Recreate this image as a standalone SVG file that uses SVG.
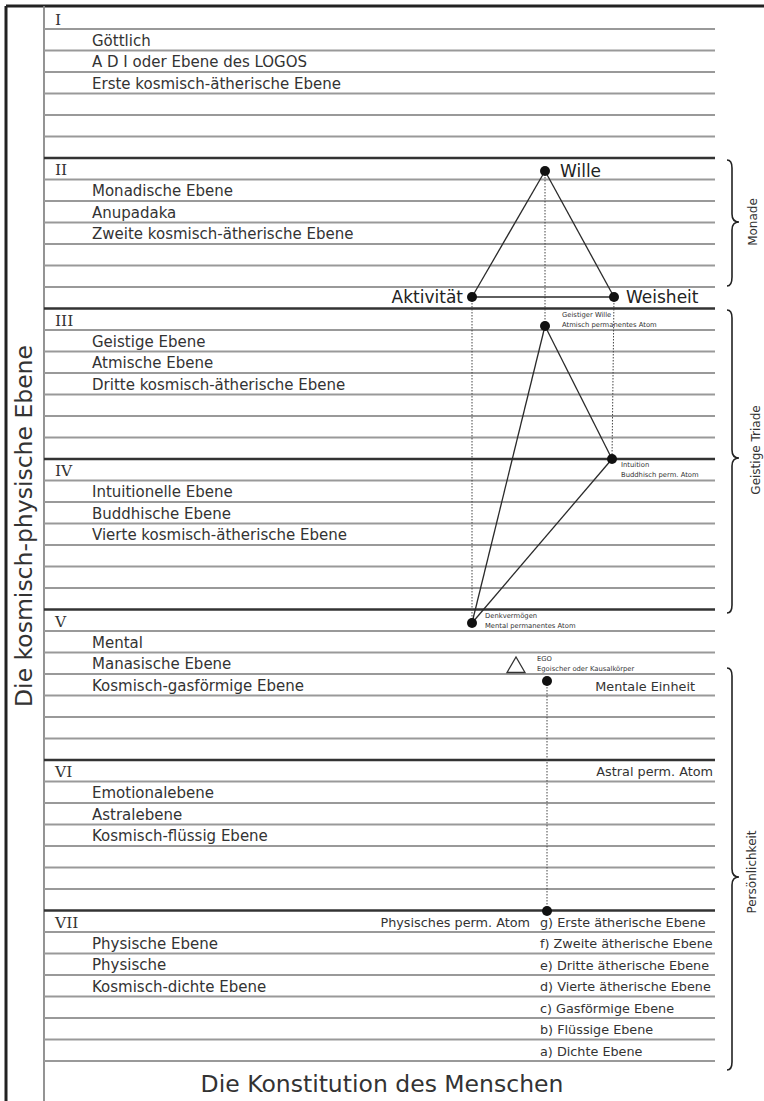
<svg xmlns="http://www.w3.org/2000/svg" width="764" height="1101" viewBox="0 0 764 1101">
<style>
.bg{fill:#fff}
.thin{stroke:#999;stroke-width:1.8}
.thick{stroke:#333;stroke-width:2.4}
.frame{stroke:#222;stroke-width:3;fill:none}
.inner{stroke:#888;stroke-width:1.8}
text{font-family:"DejaVu Sans","Verdana",sans-serif;fill:#333}
.rom{font-family:"DejaVu Serif",serif;font-size:15.5px}
.lbl{font-size:15px}
.big{font-size:23.5px}
.node{font-size:17px;fill:#222}
.small{font-size:12.8px}
.tiny{font-size:6.8px}
.side{font-size:12px}
.edge{stroke:#2a2a2a;stroke-width:1.3;fill:none}
.dot{stroke:#444;stroke-width:1;stroke-dasharray:1.5 1.5;fill:none}
.brace{stroke:#222;stroke-width:1.6;fill:none}
.pt{fill:#111}
</style>
<rect class="bg" x="0" y="0" width="764" height="1101"/>
<g id="frame">
<line class="frame" x1="6" y1="6" x2="764" y2="6"/>
<line class="frame" x1="6" y1="6" x2="6" y2="1101"/>
<line class="inner" x1="44" y1="6" x2="44" y2="1101"/>
</g>
<g id="rows">
<line class="thin" x1="44" y1="29" x2="715" y2="29"/>
<line class="thin" x1="44" y1="50.5" x2="715" y2="50.5"/>
<line class="thin" x1="44" y1="72" x2="715" y2="72"/>
<line class="thin" x1="44" y1="93.5" x2="715" y2="93.5"/>
<line class="thin" x1="44" y1="115" x2="715" y2="115"/>
<line class="thin" x1="44" y1="136.5" x2="715" y2="136.5"/>
<line class="thick" x1="44" y1="158" x2="715" y2="158"/>
<line class="thin" x1="44" y1="179.5" x2="715" y2="179.5"/>
<line class="thin" x1="44" y1="201" x2="715" y2="201"/>
<line class="thin" x1="44" y1="222.5" x2="715" y2="222.5"/>
<line class="thin" x1="44" y1="244" x2="715" y2="244"/>
<line class="thin" x1="44" y1="265.5" x2="715" y2="265.5"/>
<line class="thin" x1="44" y1="287" x2="715" y2="287"/>
<line class="thick" x1="44" y1="308.5" x2="715" y2="308.5"/>
<line class="thin" x1="44" y1="330" x2="715" y2="330"/>
<line class="thin" x1="44" y1="351.5" x2="715" y2="351.5"/>
<line class="thin" x1="44" y1="373" x2="715" y2="373"/>
<line class="thin" x1="44" y1="394.5" x2="715" y2="394.5"/>
<line class="thin" x1="44" y1="416" x2="715" y2="416"/>
<line class="thin" x1="44" y1="437.5" x2="715" y2="437.5"/>
<line class="thick" x1="44" y1="459" x2="715" y2="459"/>
<line class="thin" x1="44" y1="480.5" x2="715" y2="480.5"/>
<line class="thin" x1="44" y1="502" x2="715" y2="502"/>
<line class="thin" x1="44" y1="523.5" x2="715" y2="523.5"/>
<line class="thin" x1="44" y1="545" x2="715" y2="545"/>
<line class="thin" x1="44" y1="566.5" x2="715" y2="566.5"/>
<line class="thin" x1="44" y1="588" x2="715" y2="588"/>
<line class="thick" x1="44" y1="609.5" x2="715" y2="609.5"/>
<line class="thin" x1="44" y1="631" x2="715" y2="631"/>
<line class="thin" x1="44" y1="652.5" x2="715" y2="652.5"/>
<line class="thin" x1="44" y1="674" x2="715" y2="674"/>
<line class="thin" x1="44" y1="695.5" x2="715" y2="695.5"/>
<line class="thin" x1="44" y1="717" x2="715" y2="717"/>
<line class="thin" x1="44" y1="738.5" x2="715" y2="738.5"/>
<line class="thick" x1="44" y1="760" x2="715" y2="760"/>
<line class="thin" x1="44" y1="781.5" x2="715" y2="781.5"/>
<line class="thin" x1="44" y1="803" x2="715" y2="803"/>
<line class="thin" x1="44" y1="824.5" x2="715" y2="824.5"/>
<line class="thin" x1="44" y1="846" x2="715" y2="846"/>
<line class="thin" x1="44" y1="867.5" x2="715" y2="867.5"/>
<line class="thin" x1="44" y1="889" x2="715" y2="889"/>
<line class="thick" x1="44" y1="910.5" x2="715" y2="910.5"/>
<line class="thin" x1="44" y1="932" x2="715" y2="932"/>
<line class="thin" x1="44" y1="953.5" x2="715" y2="953.5"/>
<line class="thin" x1="44" y1="975" x2="715" y2="975"/>
<line class="thin" x1="44" y1="996.5" x2="715" y2="996.5"/>
<line class="thin" x1="44" y1="1018" x2="715" y2="1018"/>
<line class="thin" x1="44" y1="1039.5" x2="715" y2="1039.5"/>
<line class="thin" x1="44" y1="1061" x2="715" y2="1061"/>
</g>
<g id="plane-I">
<text class="rom" x="55" y="24.5">I</text>
<text class="lbl" x="92" y="45.5">Göttlich</text>
<text class="lbl" x="92" y="67">A D I oder Ebene des LOGOS</text>
<text class="lbl" x="92" y="88.5">Erste kosmisch-ätherische Ebene</text>
</g>
<g id="plane-II">
<text class="rom" x="55" y="175">II</text>
<text class="lbl" x="92" y="196">Monadische Ebene</text>
<text class="lbl" x="92" y="217.5">Anupadaka</text>
<text class="lbl" x="92" y="239">Zweite kosmisch-ätherische Ebene</text>
</g>
<g id="plane-III">
<text class="rom" x="55" y="325.5">III</text>
<text class="lbl" x="92" y="346.5">Geistige Ebene</text>
<text class="lbl" x="92" y="368">Atmische Ebene</text>
<text class="lbl" x="92" y="389.5">Dritte kosmisch-ätherische Ebene</text>
</g>
<g id="plane-IV">
<text class="rom" x="55" y="476">IV</text>
<text class="lbl" x="92" y="497">Intuitionelle Ebene</text>
<text class="lbl" x="92" y="518.5">Buddhische Ebene</text>
<text class="lbl" x="92" y="540">Vierte kosmisch-ätherische Ebene</text>
</g>
<g id="plane-V">
<text class="rom" x="55" y="626.5">V</text>
<text class="lbl" x="92" y="647.5">Mental</text>
<text class="lbl" x="92" y="669">Manasische Ebene</text>
<text class="lbl" x="92" y="690.5">Kosmisch-gasförmige Ebene</text>
</g>
<g id="plane-VI">
<text class="rom" x="55" y="777">VI</text>
<text class="lbl" x="92" y="798">Emotionalebene</text>
<text class="lbl" x="92" y="819.5">Astralebene</text>
<text class="lbl" x="92" y="841">Kosmisch-flüssig Ebene</text>
</g>
<g id="plane-VII">
<text class="rom" x="55" y="927.5">VII</text>
<text class="lbl" x="92" y="948.5">Physische Ebene</text>
<text class="lbl" x="92" y="970">Physische</text>
<text class="lbl" x="92" y="991.5">Kosmisch-dichte Ebene</text>
</g>
<g id="titles">
<text class="big" x="24" y="526" text-anchor="middle" dominant-baseline="central" transform="rotate(-90 24 526)">Die kosmisch-physische Ebene</text>
<text class="big" x="382" y="1092" text-anchor="middle">Die Konstitution des Menschen</text>
</g>
<g id="connectors">
<line class="dot" x1="545" y1="171" x2="545" y2="326"/>
<line class="dot" x1="472" y1="297" x2="472" y2="623"/>
<line class="dot" x1="614" y1="297" x2="612" y2="459"/>
<line class="dot" x1="547" y1="681" x2="547" y2="911"/>
<line class="edge" x1="545" y1="171" x2="472" y2="297"/>
<line class="edge" x1="545" y1="171" x2="614" y2="297"/>
<line class="edge" x1="472" y1="297" x2="614" y2="297"/>
<line class="edge" x1="545" y1="326" x2="612" y2="459"/>
<line class="edge" x1="545" y1="326" x2="472" y2="623"/>
<line class="edge" x1="612" y1="459" x2="472" y2="623"/>
</g>
<g id="node-wille">
<circle class="pt" cx="545" cy="171" r="5"/>
<text class="node" x="560" y="177">Wille</text>
</g>
<g id="node-aktivitaet">
<circle class="pt" cx="472" cy="297" r="5"/>
<text class="node" x="463" y="303" text-anchor="end">Aktivität</text>
</g>
<g id="node-weisheit">
<circle class="pt" cx="614" cy="297" r="5"/>
<text class="node" x="626" y="303">Weisheit</text>
</g>
<g id="node-geistiger-wille">
<circle class="pt" cx="545" cy="326" r="5"/>
<text class="tiny" x="562" y="317">Geistiger Wille</text>
<text class="tiny" x="562" y="327">Atmisch permanentes Atom</text>
</g>
<g id="node-intuition">
<circle class="pt" cx="612" cy="459" r="5"/>
<text class="tiny" x="621" y="467">Intuition</text>
<text class="tiny" x="621" y="477">Buddhisch perm. Atom</text>
</g>
<g id="node-denkvermoegen">
<circle class="pt" cx="472" cy="623" r="5"/>
<text class="tiny" x="485" y="618">Denkvermögen</text>
<text class="tiny" x="485" y="628">Mental permanentes Atom</text>
</g>
<g id="node-ego">
<polygon points="507,672.5 525,672.5 516,657" fill="#fff" stroke="#333" stroke-width="1.3"/>
<text class="tiny" x="537" y="661">EGO</text>
<text class="tiny" x="537" y="671">Egoischer oder Kausalkörper</text>
</g>
<g id="node-mentale-einheit">
<circle class="pt" cx="547" cy="681" r="5"/>
<text class="small" x="695" y="691" text-anchor="end">Mentale Einheit</text>
</g>
<g id="node-astral">
<text class="small" x="713" y="776" text-anchor="end">Astral perm. Atom</text>
</g>
<g id="node-physisch">
<circle class="pt" cx="547" cy="911" r="5"/>
<text class="small" x="530" y="926.5" text-anchor="end">Physisches perm. Atom</text>
</g>
<g id="subplanes">
<text class="small" x="540" y="926.5">g) Erste ätherische Ebene</text>
<text class="small" x="540" y="948">f) Zweite ätherische Ebene</text>
<text class="small" x="540" y="969.5">e) Dritte ätherische Ebene</text>
<text class="small" x="540" y="991">d) Vierte ätherische Ebene</text>
<text class="small" x="540" y="1012.5">c) Gasförmige Ebene</text>
<text class="small" x="540" y="1034">b) Flüssige Ebene</text>
<text class="small" x="540" y="1055.5">a) Dichte Ebene</text>
</g>
<g id="brace-monade">
<path class="brace" d="M727 160 Q732 160 732 168 L732 214 Q732 222 739 222 Q732 222 732 230 L732 277 Q732 286 727 286"/>
<text class="side" x="753" y="222" text-anchor="middle" dominant-baseline="central" transform="rotate(-90 753 222)">Monade</text>
</g>
<g id="brace-triade">
<path class="brace" d="M727 310 Q732 310 732 318 L732 450 Q732 458 739 458 Q732 458 732 466 L732 605 Q732 613 727 613"/>
<text class="side" x="756" y="450" text-anchor="middle" dominant-baseline="central" transform="rotate(-90 756 450)">Geistige Triade</text>
</g>
<g id="brace-persoenlichkeit">
<path class="brace" d="M727 668 Q732 668 732 676 L732 869 Q732 877 739 877 Q732 877 732 885 L732 1062 Q732 1070 727 1070"/>
<text class="side" x="752" y="872" text-anchor="middle" dominant-baseline="central" transform="rotate(-90 752 872)">Persönlichkeit</text>
</g>
</svg>
